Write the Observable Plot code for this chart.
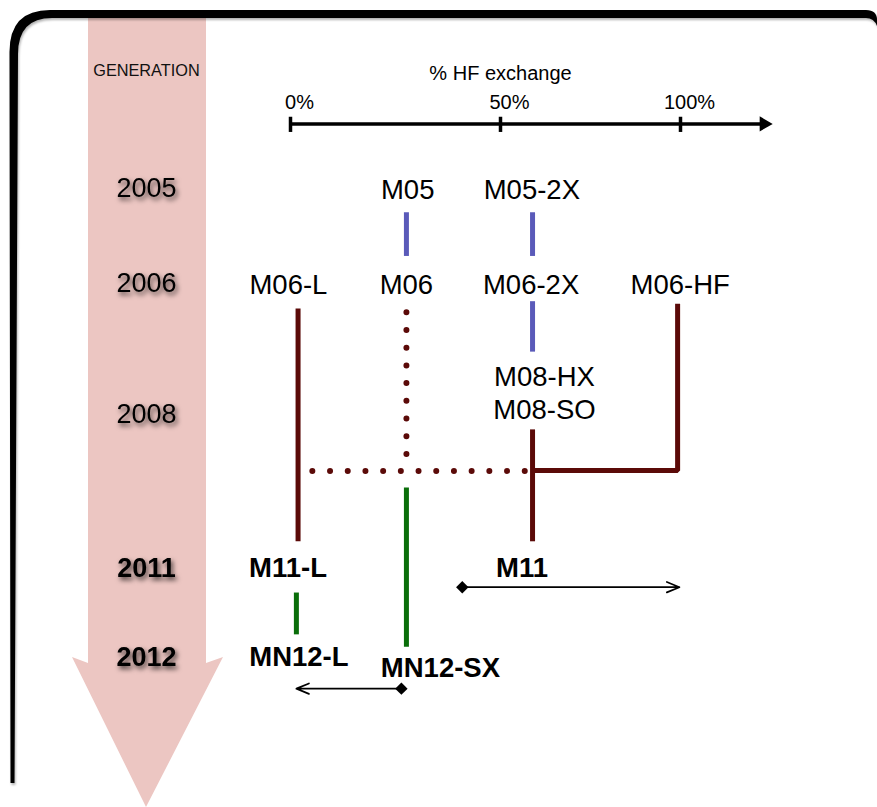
<!DOCTYPE html>
<html><head><meta charset="utf-8">
<script src="https://cdn.jsdelivr.net/npm/d3@7"></script>
<script src="https://cdn.jsdelivr.net/npm/@observablehq/plot@0.6"></script>
<style>
html,body{margin:0;padding:0;background:#fff;}
#chart{position:relative;width:877px;height:807px;overflow:hidden;}
</style></head><body><div id="chart"></div>
<script>
// ---- scale anchors: % HF exchange (x) and generation year (y) ----
const hfStops = [0, 50, 100];
const yearRows = [2005, 2006, 2008, 2011, 2012];

// ---- HF axis ----
const axisTicks = [0, 50, 100];
const axisTickLabels = ["0%", "50%", "100%"];
const axisTitle = "% HF exchange";
const axisSpan = [0, 123.2];
const axisYear = 2004.32;
const axisTickYears = [2004.25, 2004.41];
const axisLabelYear = 2004.1;
const axisTitleYear = 2003.79;

// ---- generation column ----
const generationTitle = "GENERATION";
const generationYear = 2003.76;
const generationHF = -34.3;
const yearLabels = ["2005", "2006", "2008", "2011", "2012"];
const yearLabelBold = [false, false, false, true, true];

// ---- functionals ----
const funcNames = ["M05", "M05-2X", "M06-L", "M06", "M06-2X", "M06-HF", "M08-HX\nM08-SO", "M11-L", "M11", "MN12-L", "MN12-SX"];
const funcHF    = [27.9, 58.7, -0.5, 27.6, 58.5, 99.9, 62.2, -0.6, 56.0, 2.0, 35.7];
const funcYear  = [2005, 2005, 2006, 2006, 2006, 2006, 2007.66, 2011, 2011, 2012, 2012.12];
const funcBold  = [false, false, false, false, false, false, false, true, true, true, true];

// ---- lineage (solid) ----
const linkNames = ["M05>M06", "M05-2X>M06-2X", "M06-2X>M08", "M06-L>M11-L", "M08>M11", "M06-HF>M11", "M11-L>MN12-L", "M06>MN12-SX"];
const linkFamily = ["blue", "blue", "blue", "red", "red", "red", "green", "green"];
const linkHF = [[27.6, 27.6], [58.9, 58.9], [58.9, 58.9], [1.8, 1.8], [58.9, 58.9], [99.2, 99.2, 58.9], [1.4, 1.4], [27.6, 27.6]];
const linkYear = [[2005.25, 2005.71], [2005.25, 2005.71], [2006.27, 2007.04], [2006.38, 2010.47], [2008.29, 2010.47], [2006.31, 2009.09, 2009.09], [2011.27, 2011.74], [2009.42, 2011.88]];

// ---- lineage (dotted, M06 -> M11) ----
const dotNames = ["M06 down", "M06 across"];
const dotHF = [[27.6, 27.6], [5.2, 56.9]];
const dotYear = [[2006.44, 2008.77], [2009.1, 2009.1]];

// ---- range-separated exchange ranges ----
const rangeNames = ["M11", "MN12-SX"];
const rangeFrom = [40.9, 26.4];
const rangeTo = [99.7, 1.4];
const rangeYear = [2011.21, 2012.35];

const palette = {blue: "#5a5ab9", red: "#5b0a08", green: "#0a6e0a"};

// ---- build tables ----
const solidRows = linkNames.flatMap((n, i) => linkHF[i].map((h, j) => ({id: n, color: palette[linkFamily[i]], hf: h, year: linkYear[i][j]})));
const dotRows = dotNames.flatMap((n, i) => dotHF[i].map((h, j) => ({id: n, hf: h, year: dotYear[i][j]})));
const funcs = funcNames.map((n, i) => ({name: n, hf: funcHF[i], year: funcYear[i], bold: funcBold[i]}));
const years = yearLabels.map((t, i) => ({text: t, year: yearRows[i], bold: yearLabelBold[i]}));
const ranges = rangeNames.map((n, i) => ({name: n, from: rangeFrom[i], to: rangeTo[i], year: rangeYear[i]}));
const ticks = axisTicks.map((t, i) => ({hf: t, label: axisTickLabels[i]}));

// the diagram is not to scale: piecewise spacing between the anchors
const hfToDiagram = d3.scaleLinear().domain(hfStops).range([0, 210, 390]);
const yearToDiagram = d3.scaleLinear().domain(yearRows).range([0, 95, 226, 380, 469]);

const FONT = "'Liberation Sans', Arial, Helvetica, sans-serif";

try {
const chart = Plot.plot({
  width: 877, height: 807,
  marginTop: 0, marginRight: 0, marginBottom: 0, marginLeft: 0,
  style: {fontFamily: FONT, background: "transparent", overflow: "visible"},
  x: {transform: hfToDiagram, domain: [0, 390], range: [290, 680], axis: null},
  y: {transform: yearToDiagram, domain: [0, 469], range: [188, 657], axis: null},
  color: {type: "identity"},
  marks: [
    // HF axis
    Plot.link([axisSpan], {x1: d => d[0], x2: d => d[1], y1: () => axisYear, y2: () => axisYear, stroke: "#000", strokeWidth: 3.5}),
    Plot.dot([axisSpan], {x: d => d[1], y: () => axisYear, symbol: "triangle", rotate: 90, r: 5.6, fill: "#000", stroke: "none"}),
    Plot.ruleX(ticks, {x: "hf", y1: () => axisTickYears[0], y2: () => axisTickYears[1], stroke: "#000", strokeWidth: 3.5}),
    Plot.text(ticks, {x: "hf", y: () => axisLabelYear, text: "label", dx: 9, fontSize: 20, fill: "#000"}),
    Plot.text([axisTitle], {x: () => 50, y: () => axisTitleYear, text: d => d, fontSize: 20, fill: "#000"}),
    // generation column
    Plot.text([generationTitle], {x: () => generationHF, y: () => generationYear, text: d => d, fontSize: 16.3, fill: "#111"}),
    Plot.text(years.filter(d => !d.bold), {x: () => generationHF, y: "year", text: "text", fontSize: 27, fill: "#000"}),
    Plot.text(years.filter(d => d.bold), {x: () => generationHF, y: "year", text: "text", fontSize: 27, fontWeight: "bold", fill: "#000"}),
    // lineage
    Plot.line(solidRows, {x: "hf", y: "year", z: "id", stroke: "color", strokeWidth: 5, strokeLinejoin: "miter", strokeLinecap: "butt"}),
    Plot.line(dotRows, {x: "hf", y: "year", z: "id", stroke: palette.red, strokeWidth: 6, strokeDasharray: "0 17.7", strokeLinecap: "round"}),
    // ranges
    Plot.arrow(ranges, {x1: "from", x2: "to", y1: "year", y2: "year", stroke: "#000", strokeWidth: 1.7, headLength: 12, headAngle: 45}),
    Plot.dot(ranges, {x: "from", y: "year", symbol: "diamond2", r: 5.6, fill: "#000", stroke: "none"}),
    // functional labels
    Plot.text(funcs.filter(d => !d.bold), {x: "hf", y: "year", text: "name", fontSize: 27.5, lineHeight: 1.2, fill: "#000"}),
    Plot.text(funcs.filter(d => d.bold), {x: "hf", y: "year", text: "name", fontSize: 27.5, fontWeight: "bold", fill: "#000"})
  ]
});

document.getElementById("chart").appendChild(chart);

// ---- decoration: frame, generation arrow, text shadows ----
const svg = d3.select(chart);
const defs = svg.append("defs");
defs.append("filter").attr("id", "yshadow").attr("x", "-30%").attr("y", "-50%").attr("width", "170%").attr("height", "220%")
  .append("feDropShadow").attr("dx", 2).attr("dy", 3).attr("stdDeviation", 2.6).attr("flood-color", "#000").attr("flood-opacity", 0.7);
defs.append("filter").attr("id", "fshadow").attr("x", "-5%").attr("y", "-5%").attr("width", "110%").attr("height", "110%")
  .append("feDropShadow").attr("dx", 1).attr("dy", 2).attr("stdDeviation", 1.2).attr("flood-color", "#000").attr("flood-opacity", 0.3);

const firstMark = chart.querySelector("g");
const deco = d3.create("svg:g").attr("class", "deco");
deco.append("path")
  .attr("d", "M88,10 L206,10 L206,663 L223,657 L146,807 L72,657 L88,663 Z")
  .attr("fill", "#ecc6c2");
deco.append("path")
  .attr("d", "M10.5,783 L9.5,52 Q9.5,10 50,10 L866,10 Q877,10 877,20 L877,26 Q874,18 866,18 L52,18 Q18,18 18,54 L14.5,783 Z")
  .attr("fill", "#000").attr("filter", "url(#fshadow)");
chart.insertBefore(deco.node(), firstMark);

svg.selectAll("text").filter(function() { return /^20\d\d$/.test(this.textContent); })
  .attr("filter", "url(#yshadow)");
} catch (e) {
  document.getElementById("chart").textContent = "ERR: " + e.message;
}
</script></body></html>
